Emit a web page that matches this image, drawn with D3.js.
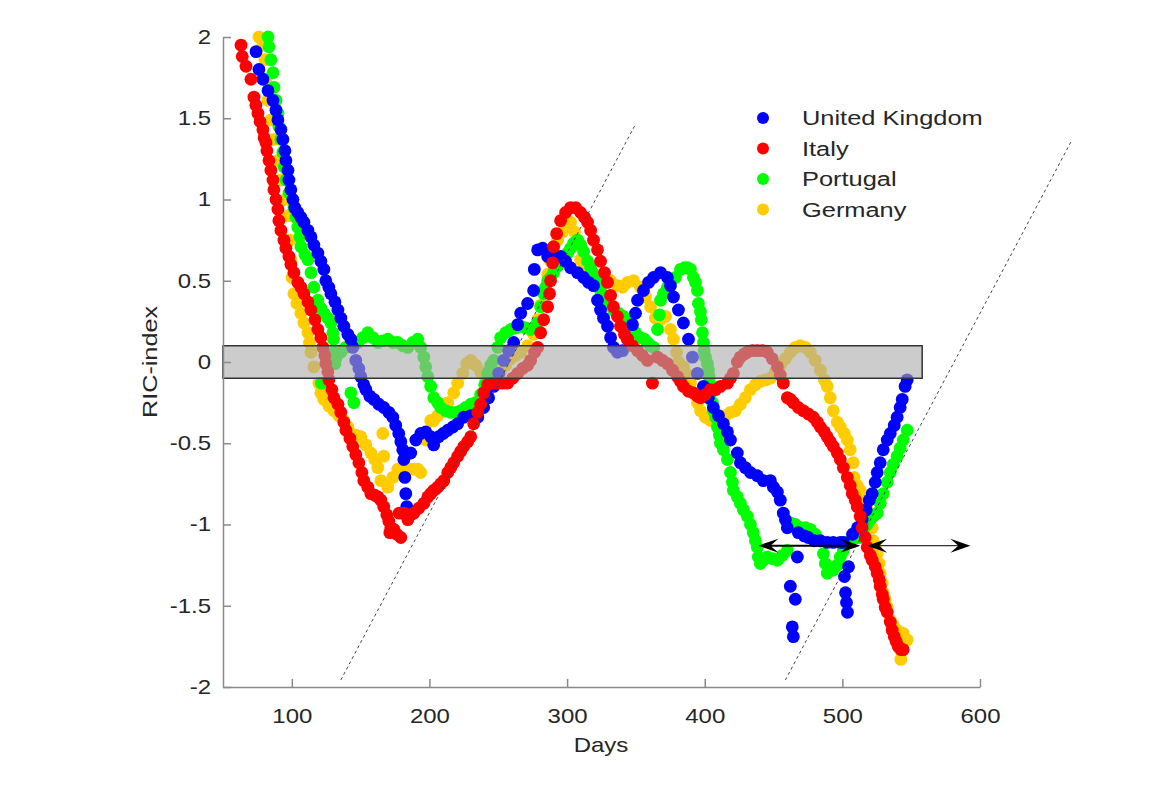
<!DOCTYPE html>
<html>
<head>
<meta charset="utf-8">
<script src="https://cdnjs.cloudflare.com/ajax/libs/d3/7.8.5/d3.min.js"></script>
<style>
    body { margin: 0; background: #fff; }
    svg text { font-family: "Liberation Sans", Arial, sans-serif; fill: #262626; }
</style>
</head>
<body>
<svg id="ric-chart"></svg>
<script>
// legend order and colours
var countries = ['United Kingdom', 'Italy', 'Portugal', 'Germany'];
var countryColors = ['#0000ff', '#ff0000', '#00ff00', '#ffcc00'];

// [day, RIC-index]
var ukData = [[74,1.91],[76.1,1.80],[79,1.74],[82.7,1.67],[86.3,1.61],[88.5,1.55],[89.9,1.49],[92.1,1.43],[93.5,1.37],[95,1.30],[95.7,1.24],[97.2,1.18],[97.9,1.12],[99.3,1.06],[100.8,1.00],[102.2,0.95],[104.4,0.92],[106.6,0.89],[108.8,0.86],[111.7,0.81],[113.9,0.77],[116,0.72],[118.9,0.67],[121.1,0.62],[123.3,0.57],[124.7,0.50],[126.9,0.46],[128.4,0.42],[131.3,0.37],[133.5,0.32],[135.6,0.27],[137.8,0.22],[140.7,0.17],[142.9,0.14],[144.3,0.09],[146.5,0.01],[148.7,-0.04],[150.1,-0.09],[152.3,-0.14],[153.8,-0.17],[156.7,-0.21],[159.6,-0.23],[163.2,-0.26],[166.8,-0.28],[170.5,-0.31],[173.4,-0.34],[175.5,-0.39],[177.7,-0.44],[179.2,-0.49],[180.6,-0.54],[181.4,-0.60],[182.1,-0.71],[182.8,-0.81],[183.5,-0.89],[186.4,-0.56],[190.1,-0.48],[193.7,-0.44],[197.3,-0.43],[200.9,-0.46],[203.1,-0.51],[206.7,-0.46],[210,-0.44],[213.3,-0.42],[217,-0.40],[220.5,-0.38],[224.9,-0.34],[230,-0.33],[235.1,-0.34],[239.4,-0.28],[243,-0.22],[246.7,-0.15],[250.3,-0.07],[253.9,0.01],[257.6,0.07],[261.2,0.12],[264.1,0.23],[266.3,0.30],[271.3,0.36],[275.7,0.44],[276.2,0.57],[278.6,0.69],[282.2,0.70],[285.9,0.65],[290.2,0.65],[295.3,0.65],[298.9,0.62],[302.5,0.58],[307.6,0.55],[312,0.52],[315.6,0.49],[319.2,0.47],[322.1,0.38],[324.3,0.32],[326.5,0.27],[329.4,0.22],[331.6,0.15],[333.7,0.09],[336.6,0.06],[340.3,0.07],[343.9,0.14],[347.5,0.23],[349.7,0.30],[351.2,0.38],[355.5,0.44],[359.2,0.49],[362.8,0.52],[367.9,0.55],[372.9,0.52],[375.1,0.47],[377.3,0.40],[380.9,0.32],[384.5,0.24],[388.2,0.14],[391.1,0.03],[394.7,-0.07],[399.1,-0.15],[402.7,-0.22],[406.3,-0.28],[410,-0.33],[413.6,-0.38],[416.5,-0.43],[418.7,-0.48],[423.7,-0.56],[425.9,-0.62],[429.5,-0.65],[433.2,-0.68],[438.2,-0.70],[442.6,-0.73],[447.7,-0.73],[449.9,-0.77],[452.8,-0.80],[454.9,-0.85],[457.1,-0.93],[458.6,-0.97],[460,-1.02],[462.2,-1.38],[463.6,-1.63],[464.4,-1.69],[465.8,-1.46],[467.3,-1.20],[468,-1.05],[472.3,-1.07],[475.2,-1.08],[479.6,-1.10],[484,-1.10],[489,-1.11],[493.4,-1.11],[498.5,-1.11],[500.8,-1.11],[501.5,-1.32],[502.3,-1.42],[503,-1.48],[503.7,-1.54],[504.5,-1.26],[507.4,-1.06],[511,-1.02],[514.4,-0.97],[517.3,-0.91],[519.6,-0.85],[521.7,-0.81],[523.9,-0.74],[525.3,-0.68],[527.5,-0.62],[529.7,-0.54],[532.6,-0.48],[534.8,-0.44],[537.7,-0.39],[539.8,-0.34],[542,-0.28],[543.5,-0.23],[545.6,-0.15],[547.1,-0.11]];

var italyData = [[63.1,1.95],[64,1.88],[66.7,1.82],[70.3,1.74],[72.5,1.63],[73.9,1.58],[75.4,1.53],[76.9,1.48],[79,1.43],[79.8,1.38],[81.2,1.35],[81.9,1.30],[83.4,1.24],[84.8,1.18],[86.3,1.12],[87,1.06],[88.5,1.00],[89.9,0.94],[90.6,0.87],[92.1,0.81],[94.3,0.75],[95.7,0.70],[97.9,0.65],[99.3,0.60],[101.5,0.55],[104.4,0.49],[106.6,0.46],[108.8,0.42],[111.7,0.37],[113.9,0.32],[116.8,0.26],[118.9,0.20],[121.1,0.15],[122.6,0.09],[124,0.04],[124.7,-0.01],[126.2,-0.06],[126.9,-0.11],[129.1,-0.17],[130.6,-0.22],[133.5,-0.26],[135.6,-0.31],[137.8,-0.37],[139.3,-0.42],[142.2,-0.47],[144.3,-0.52],[146.5,-0.57],[148.7,-0.62],[150.9,-0.68],[152.3,-0.73],[155.2,-0.77],[157.4,-0.81],[160.3,-0.82],[162.5,-0.83],[164.7,-0.85],[166.8,-0.89],[169,-0.94],[170.5,-0.98],[171.2,-1.05],[171.9,-1.02],[174.1,-1.03],[176.3,-1.06],[178,-0.93],[179.2,-1.08],[181.4,-0.93],[184.3,-0.97],[186.4,-0.94],[188.6,-0.93],[192.2,-0.90],[195.9,-0.87],[198.8,-0.83],[200.9,-0.81],[203.1,-0.79],[206,-0.77],[208.2,-0.75],[210.4,-0.73],[213.3,-0.68],[215.5,-0.65],[217.6,-0.62],[220.5,-0.58],[222.7,-0.55],[224.9,-0.52],[227.8,-0.49],[230,-0.46],[232.1,-0.38],[235.1,-0.31],[237.2,-0.26],[239.4,-0.19],[242.3,-0.14],[245.9,-0.13],[249.6,-0.13],[253.2,-0.13],[256.8,-0.13],[260.5,-0.10],[264.1,-0.07],[267.7,-0.04],[271.3,-0.02],[273.5,0.01],[276.4,0.06],[278.6,0.09],[280.8,0.18],[283,0.26],[285.9,0.34],[287.3,0.42],[288,0.50],[289.5,0.61],[290.2,0.71],[292.4,0.79],[295.3,0.87],[298.9,0.92],[302.5,0.95],[306.2,0.95],[309.8,0.92],[312.7,0.89],[314.9,0.86],[317.1,0.81],[319.2,0.75],[322.1,0.69],[324.3,0.62],[327.2,0.55],[329.4,0.49],[331.6,0.41],[333.7,0.34],[336.6,0.28],[338.8,0.22],[341.7,0.17],[343.9,0.14],[347.5,0.10],[351.2,0.07],[354.8,0.04],[358.4,0.01],[362,-0.13],[365.7,0.03],[369.3,0.01],[372.9,-0.01],[376.6,-0.05],[380.2,-0.09],[382.4,-0.12],[384.5,-0.15],[388.2,-0.18],[391.8,-0.19],[394.7,-0.21],[396.9,-0.22],[400.5,-0.20],[404.1,-0.17],[407.8,-0.17],[411.4,-0.15],[416.5,-0.13],[418.7,-0.10],[420.8,-0.07],[423.7,0.00],[425.9,0.03],[428.8,0.05],[431,0.06],[434.6,0.07],[438.2,0.07],[441.9,0.07],[445.5,0.06],[449.1,0.02],[452.8,-0.03],[454.9,-0.08],[457.1,-0.13],[460,-0.22],[462.2,-0.23],[464.4,-0.25],[468,-0.28],[471.6,-0.30],[475.3,-0.32],[478.9,-0.34],[481.8,-0.37],[484,-0.40],[486.9,-0.43],[489,-0.46],[491.2,-0.49],[493.4,-0.52],[496.3,-0.56],[498.5,-0.60],[500.7,-0.65],[503.6,-0.71],[505.7,-0.76],[507.2,-0.81],[509.4,-0.85],[510.8,-0.89],[513,-0.95],[514.4,-1.02],[516.6,-1.08],[518.1,-1.14],[520.3,-1.19],[521.7,-1.22],[523.9,-1.26],[525.3,-1.30],[526.8,-1.34],[527.5,-1.38],[529,-1.43],[529.7,-1.46],[531.1,-1.51],[532.6,-1.54],[534.8,-1.60],[536.2,-1.65],[537.7,-1.69],[539.1,-1.72],[540.6,-1.75],[542.7,-1.77],[544.2,-1.77]];

var portugalData = [[82.7,2.00],[83.4,1.94],[84.8,1.86],[86.3,1.78],[87,1.69],[88.5,1.61],[89.9,1.53],[90.6,1.45],[92.1,1.37],[93.5,1.29],[94.3,1.20],[95.7,1.12],[97.9,1.04],[101.5,0.95],[103,0.89],[104.4,0.83],[105.9,0.77],[106.6,0.71],[109.5,0.66],[111.7,0.63],[113.9,0.55],[116,0.46],[118.9,0.38],[121.1,0.33],[121.5,-0.13],[123.3,0.30],[126.2,0.27],[128.4,0.24],[129.8,0.18],[130.3,0.14],[130.8,0.06],[131.3,-0.01],[132,0.02],[135.6,0.06],[139.3,0.09],[142.9,-0.19],[145.1,-0.25],[148,0.12],[151.6,0.15],[155.2,0.18],[158.9,0.15],[162.5,0.12],[166.1,0.13],[169.7,0.14],[173.4,0.12],[177,0.12],[180.6,0.10],[184.3,0.09],[187.9,0.12],[191.5,0.14],[193.7,0.09],[195.9,0.03],[197.3,-0.03],[198.8,-0.09],[200.9,-0.15],[203.1,-0.22],[206,-0.25],[208.2,-0.28],[211.8,-0.30],[215.5,-0.31],[219.1,-0.31],[222.7,-0.30],[226.3,-0.28],[230,-0.26],[233.6,-0.25],[237.2,-0.20],[240.1,-0.14],[242.3,-0.07],[244.5,-0.02],[246.7,0.01],[249.6,0.09],[251.7,0.15],[255.4,0.18],[259,0.20],[262.6,0.21],[266.3,0.22],[269.9,0.21],[273.5,0.20],[277.1,0.22],[278.6,0.24],[280.8,0.34],[283,0.42],[284.4,0.46],[285.9,0.50],[288,0.52],[290.2,0.55],[293.1,0.59],[295.3,0.63],[297.5,0.65],[300.4,0.67],[302.5,0.70],[304.7,0.73],[307.6,0.75],[309.8,0.72],[312,0.68],[314.9,0.62],[317.1,0.58],[319.2,0.54],[322.1,0.49],[324.3,0.44],[326.5,0.41],[329.4,0.36],[333.7,0.32],[337.4,0.30],[341,0.28],[343.9,0.25],[346.1,0.22],[349.7,0.18],[353.3,0.15],[356.2,0.14],[358.4,0.12],[360.6,0.10],[362.8,0.09],[365.7,0.20],[367.1,0.29],[367.9,0.38],[370,0.42],[372.9,0.46],[375.1,0.49],[378.7,0.52],[382.4,0.57],[385.3,0.58],[387.5,0.58],[389.6,0.57],[391.8,0.52],[393.3,0.49],[394.7,0.44],[395.4,0.36],[396.9,0.31],[397.5,0.26],[398.3,0.18],[399.1,0.12],[399.6,0.07],[400.5,0.03],[402,-0.01],[402.7,-0.05],[403.2,-0.09],[404.1,-0.14],[404.6,-0.19],[405.6,-0.25],[406.3,-0.30],[407.8,-0.34],[409.2,-0.40],[410.7,-0.45],[411.4,-0.50],[413.6,-0.54],[416.5,-0.60],[418.7,-0.68],[420.1,-0.74],[420.8,-0.79],[423.7,-0.83],[425.9,-0.87],[428.1,-0.91],[431,-0.95],[433.2,-1.00],[435.3,-1.05],[436.8,-1.10],[438.2,-1.14],[438.9,-1.20],[440.4,-1.24],[442.6,-1.22],[445.5,-1.20],[449.1,-1.21],[452.8,-1.22],[456.4,-1.19],[460,-1.16],[462.2,-0.99],[465.8,-1.00],[469.5,-1.02],[473.1,-1.02],[476.7,-1.03],[480.3,-1.06],[484,-1.10],[486.2,-1.18],[487.6,-1.24],[489,-1.30],[491.2,-1.28],[493.4,-1.28],[496.3,-1.25],[498.5,-1.20],[500.7,-1.16],[503.6,-1.11],[505.7,-1.10],[507.9,-1.08],[510.8,-1.08],[513,-1.08],[515.2,-1.03],[518.1,-1.00],[520.3,-0.97],[522.4,-0.95],[525.3,-0.93],[527.5,-0.87],[529.7,-0.81],[532.6,-0.74],[534.8,-0.68],[537,-0.63],[539.8,-0.58],[542,-0.53],[544.2,-0.48],[547.1,-0.42]];

var germanyData = [[76.1,2.00],[79,1.95],[80.5,1.86],[81.2,1.74],[82.7,1.61],[84.8,1.49],[87,1.37],[89.9,1.24],[92.1,1.12],[95,1.00],[97.2,0.90],[98.6,0.75],[99.3,0.63],[100.1,0.52],[101.5,0.42],[103.7,0.36],[106.6,0.30],[108.8,0.24],[111.7,0.18],[112.8,0.12],[113.9,0.06],[116,-0.03],[119.7,-0.13],[121.1,-0.19],[123.3,-0.23],[126.9,-0.27],[130.6,-0.30],[134.2,-0.33],[137.8,-0.36],[140.7,-0.40],[142.9,-0.44],[146.5,-0.45],[150.1,-0.46],[153.8,-0.51],[157.4,-0.56],[160.3,-0.60],[162.5,-0.65],[164.7,-0.73],[166.1,-0.44],[166.8,-0.58],[169.7,-0.77],[173.4,-0.71],[177,-0.66],[181.4,-0.63],[185,-0.66],[188.6,-0.66],[191.5,-0.66],[193.7,-0.68],[197.3,-0.48],[200.9,-0.36],[203.1,-0.36],[206,-0.33],[208.2,-0.31],[213.3,-0.25],[217.6,-0.19],[220.5,-0.13],[224.2,-0.07],[227.1,-0.01],[230,0.01],[233.6,-0.02],[237.2,-0.06],[240.9,-0.11],[244.5,-0.14],[248.1,-0.11],[251.7,-0.06],[255.4,-0.02],[259,0.02],[262.6,0.04],[266.3,0.06],[271.3,0.10],[275.7,0.17],[278.6,0.26],[280.8,0.35],[283,0.44],[285.9,0.54],[288,0.62],[290.2,0.69],[293.1,0.75],[296.7,0.80],[300.4,0.84],[302.5,0.86],[305.4,0.80],[307.6,0.72],[309.8,0.63],[312.7,0.58],[317.1,0.55],[322.1,0.53],[326.5,0.52],[331.6,0.50],[336.6,0.47],[340.3,0.46],[343.9,0.49],[348.3,0.50],[353.3,0.46],[357,0.40],[360.6,0.34],[364.2,0.27],[367.9,0.26],[371.5,0.28],[375.1,0.20],[377.3,0.14],[379.5,0.06],[380.9,0.00],[384.5,-0.03],[387.5,-0.08],[389.6,-0.13],[391.8,-0.19],[394.7,-0.25],[396.9,-0.30],[400.5,-0.34],[404.1,-0.36],[407.8,-0.36],[411.4,-0.34],[415,-0.33],[418.7,-0.31],[422.3,-0.30],[425.9,-0.26],[429.5,-0.22],[433.2,-0.17],[436.8,-0.14],[440.4,-0.12],[444.1,-0.11],[447.7,-0.10],[451.3,-0.06],[454.9,-0.02],[458.6,0.02],[462.2,0.06],[465.8,0.09],[469.5,0.10],[473.1,0.09],[476.7,0.06],[480.3,0.01],[484,-0.05],[486.9,-0.11],[489,-0.15],[491.2,-0.22],[493.4,-0.30],[496.3,-0.37],[498.5,-0.40],[501.4,-0.44],[503.6,-0.48],[505.7,-0.54],[507.9,-0.62],[508.5,-0.71],[510.8,-0.76],[513,-0.79],[515.2,-0.85],[518.1,-0.91],[520.3,-0.95],[521.7,-1.02],[522.4,-1.10],[523.9,-1.14],[525.3,-1.18],[526.8,-1.24],[527.5,-1.30],[529,-1.36],[529.7,-1.42],[531.1,-1.46],[532.6,-1.51],[534.8,-1.59],[537,-1.62],[539.8,-1.65],[542,-1.77],[542.5,-1.83],[544.2,-1.67],[547.1,-1.71]];

var xTicks = [100, 200, 300, 400, 500, 600];
var yTicks = [-2, -1.5, -1, -0.5, 0, 0.5, 1, 1.5, 2];

// shaded band around zero: [dayFrom, dayTo, low, high]
var band = [50, 558, -0.1, 0.1];
// dotted guide lines, [day, value] end points
var guideLines = [[[135.6, -1.957], [349, 1.452]], [[458.6, -1.957], [666.8, 1.366]]];
// double arrows at one level
var arrowLevel = -1.13;
var arrowSpans = [[439, 513], [518, 593]];

function drawChart(selector) {
    var svgWidth = 1170,
        svgHeight = 800;
    var svg = d3.select(selector)
        .attr('width', svgWidth)
        .attr('height', svgHeight);

    var x = d3.scaleLinear().domain([50, 600]).range([223, 980]);
    var y = d3.scaleLinear().domain([-2, 2]).range([687, 37]);

    // series, drawn bottom to top
    var series = [
        {data: germanyData, color: countryColors[3]},
        {data: portugalData, color: countryColors[2]},
        {data: ukData, color: countryColors[0]},
        {data: italyData, color: countryColors[1]}
    ];
    series.forEach(function(s) {
        svg.append('g')
            .selectAll('circle')
            .data(s.data)
            .enter()
            .append('circle')
            .attr('cx', function(d) { return x(d[0]); })
            .attr('cy', function(d) { return y(d[1]); })
            .attr('r', 6.4)
            .attr('fill', s.color);
    });

    // grey band
    svg.append('rect')
        .attr('x', x(band[0]))
        .attr('y', y(band[3]))
        .attr('width', x(band[1]) - x(band[0]))
        .attr('height', y(band[2]) - y(band[3]))
        .attr('fill', 'rgb(170,170,170)')
        .attr('fill-opacity', 0.6)
        .attr('stroke', '#333')
        .attr('stroke-width', 1.5);

    // dotted guides
    svg.selectAll('.guide')
        .data(guideLines)
        .enter()
        .append('line')
        .attr('class', 'guide')
        .attr('x1', function(d) { return x(d[0][0]); })
        .attr('y1', function(d) { return y(d[0][1]); })
        .attr('x2', function(d) { return x(d[1][0]); })
        .attr('y2', function(d) { return y(d[1][1]); })
        .attr('stroke', '#444')
        .attr('stroke-width', 1)
        .attr('stroke-dasharray', '3,3');

    // arrows
    function headPath(tx, ty, dir) {
        var len = 20, half = 7, notch = 12;
        return 'M' + tx + ',' + ty +
            'L' + (tx - dir * len) + ',' + (ty - half) +
            'L' + (tx - dir * notch) + ',' + ty +
            'L' + (tx - dir * len) + ',' + (ty + half) + 'Z';
    }
    arrowSpans.forEach(function(span, i) {
        var x1 = x(span[0]), x2 = x(span[1]), ay = y(arrowLevel);
        svg.append('line')
            .attr('x1', x1 + 10).attr('x2', x2 - 10)
            .attr('y1', ay).attr('y2', ay)
            .attr('stroke', i === 0 ? '#000' : '#333')
            .attr('stroke-width', i === 0 ? 2 : 1.2);
        svg.append('path').attr('d', headPath(x1, ay, -1)).attr('fill', '#000');
        svg.append('path').attr('d', headPath(x2, ay, 1)).attr('fill', '#000');
    });

    // axes
    var xAxis = d3.axisBottom(x)
        .tickValues(xTicks)
        .tickSize(-8)
        .tickSizeOuter(0)
        .tickPadding(22)
        .tickFormat(function(d) { return String(d); });
    var gx = svg.append('g')
        .attr('transform', 'translate(0,' + y(-2) + ')')
        .call(xAxis);
    var yAxis = d3.axisLeft(y)
        .tickValues(yTicks)
        .tickSize(-8)
        .tickSizeOuter(0)
        .tickPadding(10)
        .tickFormat(function(d) { return String(d); });
    var gy = svg.append('g')
        .attr('transform', 'translate(' + x(50) + ',0)')
        .call(yAxis);
    [gx, gy].forEach(function(g) {
        g.select('.domain').attr('stroke', '#8a8a8a').attr('stroke-width', 1.5);
        g.selectAll('.tick line').attr('stroke', '#8a8a8a').attr('stroke-width', 1.5);
        g.selectAll('.tick text')
            .attr('fill', '#262626')
            .style('font-size', '20px')
            .style('font-family', '"Liberation Sans", Arial, sans-serif')
            .attr('transform', 'scale(1.2,1)');
    });

    // axis titles
    svg.append('text')
        .attr('transform', 'translate(601,752) scale(1.2,1)')
        .attr('text-anchor', 'middle')
        .style('font-size', '20px')
        .text('Days');
    svg.append('text')
        .attr('transform', 'translate(157,362) rotate(-90) scale(1.2,1)')
        .attr('text-anchor', 'middle')
        .style('font-size', '21px')
        .text('RIC-index');

    // legend
    var legend = svg.selectAll('.legend')
        .data(countries)
        .enter()
        .append('g')
        .attr('class', 'legend')
        .attr('transform', function(d, i) {
            return 'translate(763,' + (118 + i * 30.5) + ')';
        });
    legend.append('circle')
        .attr('r', 6)
        .attr('fill', function(d, i) { return countryColors[i]; });
    legend.append('text')
        .attr('transform', 'translate(39,0) scale(1.27,1)')
        .attr('dy', '0.35em')
        .style('font-size', '20px')
        .text(function(d) { return d; });
}
drawChart('#ric-chart');
</script>
</body>
</html>
